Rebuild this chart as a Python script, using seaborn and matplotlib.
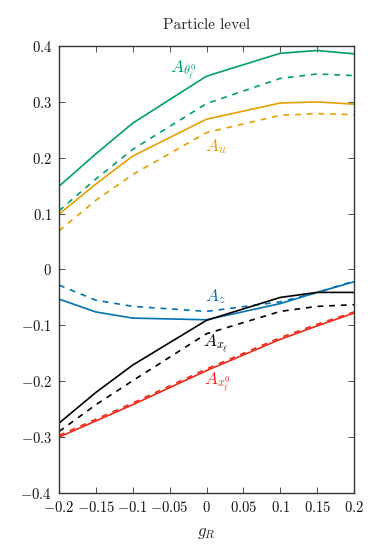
import matplotlib
matplotlib.use("Agg")
import matplotlib.pyplot as plt
import seaborn as sns
import pandas as pd

sns.set_theme(style="ticks")
plt.rcParams["mathtext.fontset"] = "cm"
plt.rcParams["font.family"] = ["cmr10", "DejaVu Serif"]
plt.rcParams["axes.formatter.use_mathtext"] = True

g_R = [-0.2, -0.15, -0.1, 0.0, 0.1, 0.15, 0.2]

A_theta_solid = [0.149, 0.207, 0.262, 0.346, 0.387, 0.392, 0.386]
A_theta_dashed = [0.105, 0.162, 0.215, 0.297, 0.342, 0.350, 0.347]
A_u_solid = [0.099, 0.153, 0.203, 0.269, 0.298, 0.300, 0.296]
A_u_dashed = [0.069, 0.124, 0.170, 0.245, 0.276, 0.279, 0.277]
A_z_solid = [-0.053, -0.076, -0.087, -0.090, -0.061, -0.041, -0.022]
A_z_dashed = [-0.028, -0.055, -0.066, -0.075, -0.058, -0.041, -0.021]
A_xl_solid = [-0.275, -0.220, -0.171, -0.091, -0.050, -0.041, -0.041]
A_xl_dashed = [-0.290, -0.242, -0.199, -0.115, -0.075, -0.066, -0.063]
A_x0_solid = [-0.300, -0.271, -0.242, -0.181, -0.125, -0.101, -0.078]
A_x0_dashed = [-0.297, -0.268, -0.239, -0.178, -0.122, -0.098, -0.076]

colors = {"theta": "#009E73", "u": "#E69F00", "z": "#0072B2", "xl": "#000000", "x0": "#EE2A1B"}

series = [
    ("theta", "solid", A_theta_solid), ("theta", "dashed", A_theta_dashed),
    ("u", "solid", A_u_solid), ("u", "dashed", A_u_dashed),
    ("z", "solid", A_z_solid), ("z", "dashed", A_z_dashed),
    ("xl", "solid", A_xl_solid), ("xl", "dashed", A_xl_dashed),
    ("x0", "solid", A_x0_solid), ("x0", "dashed", A_x0_dashed),
]

fig = plt.figure(figsize=(3.82, 5.44), dpi=100)
ax = fig.add_axes([0.1545, 0.0938, 0.7722, 0.8216])

for name, ls, vals in series:
    df = pd.DataFrame({"g": g_R, "A": vals})
    sns.lineplot(data=df, x="g", y="A", ax=ax, color=colors[name],
                 linestyle="-" if ls == "solid" else (0, (3.5, 3.5)),
                 linewidth=1.2, legend=False)

labels = [
    (-0.032, 0.357, r"$A_{\theta_\ell^0}$", "theta"),
    (0.013, 0.221, r"$A_u$", "u"),
    (0.0115, -0.049, r"$A_z$", "z"),
    (0.013, -0.131, r"$A_{x_\ell}$", "xl"),
    (0.015, -0.201, r"$A_{x_\ell^0}$", "x0"),
]
for x, y, t, c in labels:
    ax.text(x, y, t, color=colors[c], fontsize=12.5, ha="center", va="center")

ax.set_xlim(-0.2, 0.2)
ax.set_ylim(-0.4, 0.4)
xt = [-0.2, -0.15, -0.1, -0.05, 0, 0.05, 0.1, 0.15, 0.2]
xtl = ["$-0.2$", "$-0.15$", "$-0.1$", "$-0.05$", "$0$", "$0.05$", "$0.1$", "$0.15$", "$0.2$"]
yt = [-0.4, -0.3, -0.2, -0.1, 0, 0.1, 0.2, 0.3, 0.4]
ytl = ["$-0.4$", "$-0.3$", "$-0.2$", "$-0.1$", "$0$", "$0.1$", "$0.2$", "$0.3$", "$0.4$"]
ax.set_xticks(xt)
ax.set_xticklabels(xtl)
ax.set_yticks(yt)
ax.set_yticklabels(ytl)
ax.tick_params(direction="in", top=True, right=True, length=4, width=0.6,
               labelsize=10.5, colors="#333333", labelcolor="#111111", pad=5)
for s in ax.spines.values():
    s.set_linewidth(1.0)
    s.set_color("#333333")
ax.set_xlabel("$g_R$", fontsize=12, labelpad=8)
ax.set_ylabel("")
ax.set_title("Particle level", fontsize=11, pad=12)

fig.savefig("out.png", dpi=100)
